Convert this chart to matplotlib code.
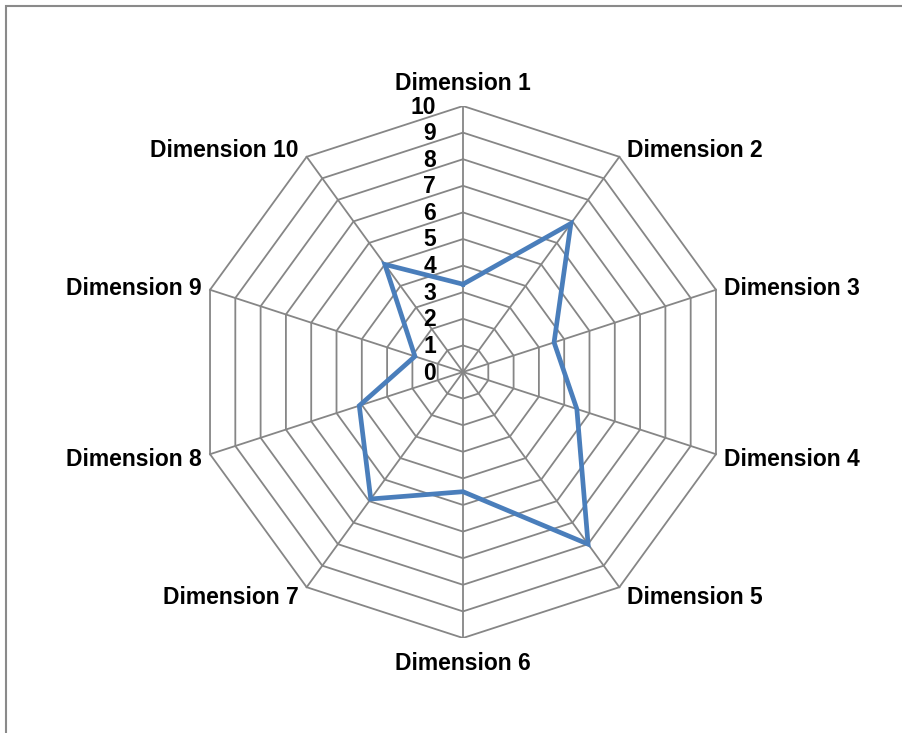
import numpy as np
import matplotlib
matplotlib.use("Agg")
import matplotlib.pyplot as plt
from matplotlib.patches import Rectangle

plt.rcParams['font.family'] = ['Liberation Sans', 'DejaVu Sans']

# data
dimensions = ["Dimension 1", "Dimension 2", "Dimension 3", "Dimension 4",
              "Dimension 5", "Dimension 6", "Dimension 7", "Dimension 8",
              "Dimension 9", "Dimension 10"]
values = [3.3, 6.9, 3.6, 4.5, 8.0, 4.5, 5.9, 4.1, 1.9, 5.0]
rings = list(range(0, 11))

W, H = 903, 733
cx, cy, R = 463, 372, 266  # centre and outer radius in pixels

fig = plt.figure(figsize=(W / 100, H / 100), dpi=100)
fig.patch.set_facecolor("white")

# outer chart border (chart is cut off at right and bottom)
fig.patches.append(Rectangle((6 / W, -0.1), 1.2, (H - 6) / H + 0.1,
                             transform=fig.transFigure, fill=False,
                             edgecolor="#8a8a8a", linewidth=1.5))

ax = fig.add_axes([(cx - R) / W, (H - cy - R) / H, 2 * R / W, 2 * R / H])
ax.set_xlim(-10, 10)
ax.set_ylim(-10, 10)
ax.axis("off")

n = len(dimensions)
theta = np.arange(n) * 2 * np.pi / n
sx, cyy = np.sin(theta), np.cos(theta)

grid_col = "#868686"
# polygon rings
for r in rings[1:]:
    ax.plot(np.append(r * sx, r * sx[0]), np.append(r * cyy, r * cyy[0]),
            color=grid_col, lw=1.3, zorder=1)
# spokes
for i in range(n):
    ax.plot([0, 10 * sx[i]], [0, 10 * cyy[i]], color=grid_col, lw=1.3, zorder=1)

# data series
v = np.array(values)
ax.plot(np.append(v * sx, v[0] * sx[0]), np.append(v * cyy, v[0] * cyy[0]),
        color="#4a7ebb", lw=3.4, zorder=3, solid_joinstyle="miter")

# tick labels along the vertical axis
for r in rings:
    ax.annotate(str(r), xy=(0, r), xytext=(-27, -1), textcoords="offset pixels",
                ha="right", va="center", fontsize=16.5, fontweight="bold",
                color="black")

# category labels
for i, name in enumerate(dimensions):
    s, c = sx[i], cyy[i]
    if abs(s) < 0.01:
        ha = "center"
        off = (0, 23 if c > 0 else -26)
    else:
        ha = "left" if s > 0 else "right"
        off = (8 if s > 0 else -8, 10 * c - 2)
    ax.annotate(name, xy=(10 * s, 10 * c), xytext=off, textcoords="offset pixels",
                ha=ha, va="center", fontsize=16.5, fontweight="bold",
                color="black", annotation_clip=False)

fig.savefig("out.png", dpi=100)
